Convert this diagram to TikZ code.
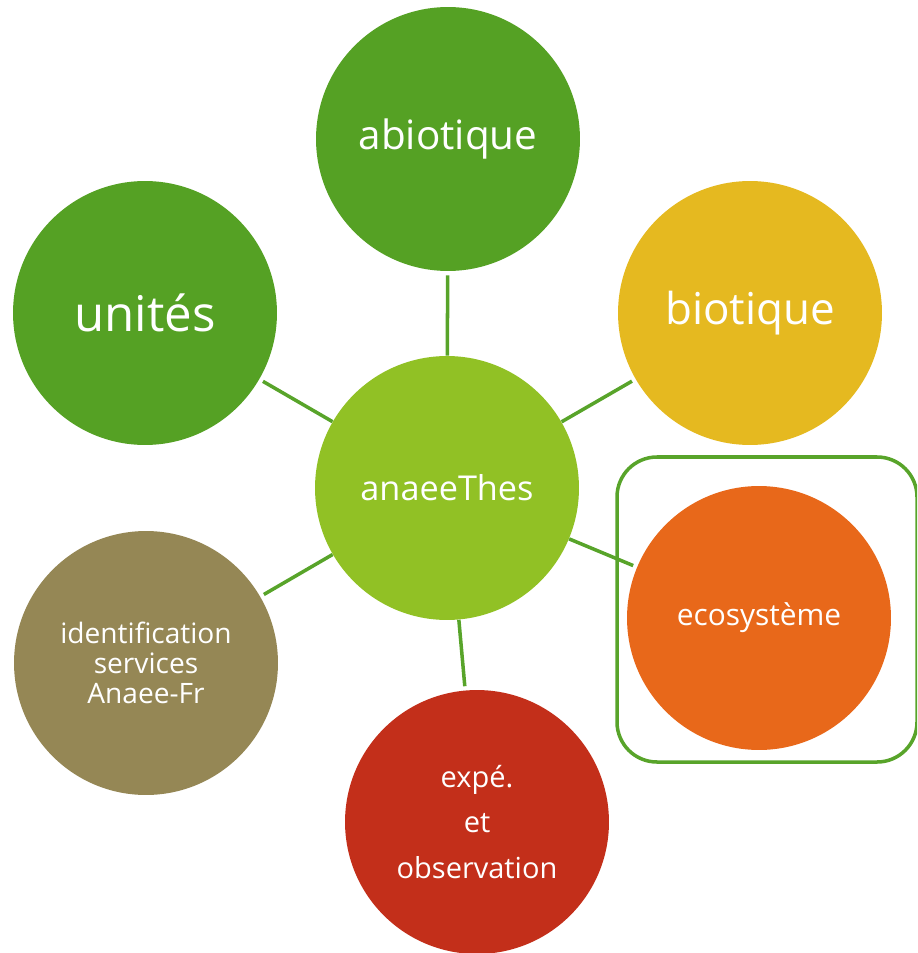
\documentclass[tikz,border=0pt]{standalone}
\usepackage{fontspec}
\setmainfont{Open Sans}
\usetikzlibrary{positioning}

\definecolor{leafgreen}{HTML}{55A124}
\definecolor{limegreen}{HTML}{91C125}
\definecolor{goldyellow}{HTML}{E5B920}
\definecolor{orangeeco}{HTML}{E8681A}
\definecolor{olivebrown}{HTML}{958755}
\definecolor{brickred}{HTML}{C32F1A}
\definecolor{linkgreen}{HTML}{58A42A}

\tikzset{
	bubble/.style={circle, minimum size=5.28cm, inner sep=0pt, text=white, align=center},
	link/.style={draw=linkgreen, line width=2pt, shorten >=0.08cm}
}

\begin{document}
\begin{tikzpicture}[x=0.02cm,y=-0.02cm]
	\useasboundingbox (0,0) rectangle (917,953);
	\clip (0,0) rectangle (917,953);

	% frame round ecosysteme
	\draw[line width=2pt, linkgreen, rounded corners=0.8cm] (617,457) rectangle (917,762);

	\node[bubble, fill=limegreen, font=\fontsize{19.5}{22}\selectfont] (thes) at (447,488) {anaeeThes};
	\node[bubble, fill=leafgreen, font=\fontsize{23}{26}\selectfont] (abio) at (448,139) {abiotique};
	\node[bubble, fill=leafgreen, font=\fontsize{28}{32}\selectfont] (unit) at (145,313) {unités};
	\node[bubble, fill=goldyellow, font=\fontsize{25}{30}\selectfont] (bio) at (750,313) {biotique};
	\node[bubble, fill=orangeeco, font=\fontsize{17}{20}\selectfont] (eco) at (759,618) {ecosystème};
	\node[bubble, fill=olivebrown, font=\fontsize{16}{17}\selectfont] (ident) at (146,663) {identification\\services\\Anaee-Fr};
	\node[bubble, fill=brickred, font=\fontsize{16.5}{26}\selectfont] (expe) at (477,822) {expé.\\et\\observation};

	\draw[link] (thes) -- (abio);
	\draw[link] (thes) -- (unit);
	\draw[link] (thes) -- (bio);
	\draw[link] (thes) -- (eco);
	\draw[link] (thes) -- (ident);
	\draw[link] (thes) -- (expe);
\end{tikzpicture}
\end{document}
